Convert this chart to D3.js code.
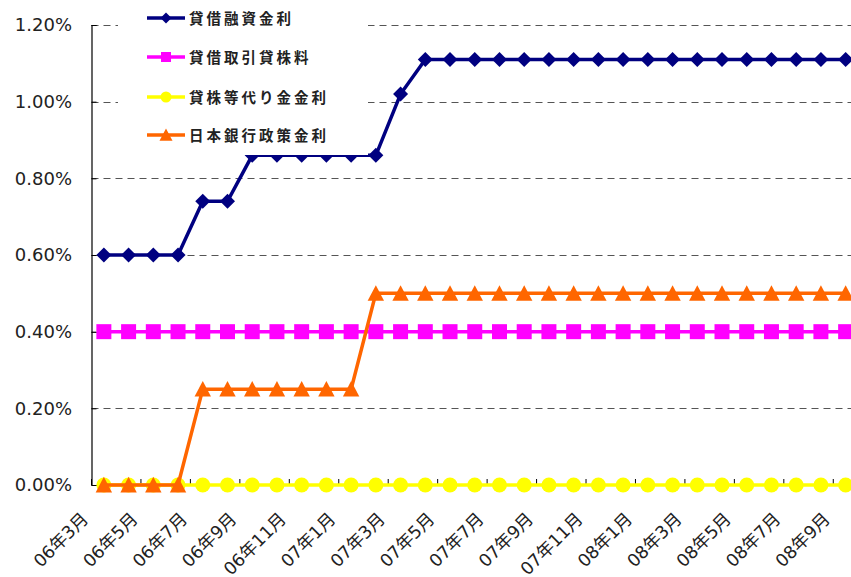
<!DOCTYPE html>
<html>
<head>
<meta charset="utf-8">
<script src="https://cdn.jsdelivr.net/npm/d3@7"></script>
<style>
  body { margin: 0; background: #fff; }
  svg { display: block; font-family: "DejaVu Sans", "Noto Sans CJK JP", sans-serif; }
  .grid line { stroke: #555; stroke-dasharray: 7,5; stroke-width: 1.2; }
  .tick-label { font-size: 18px; fill: #222; }
  .month-label { font-size: 17.5px; fill: #222; }
  .legend-text { font-family: "Noto Sans CJK JP", sans-serif; font-size: 14.5px; font-weight: bold; letter-spacing: 3px; fill: #222; }
</style>
</head>
<body>
<svg id="chart" width="851" height="577"></svg>
<script>
// months Mar 2006 .. Sep 2008
const months = [
  '06年3月', '06年4月', '06年5月', '06年6月', '06年7月', '06年8月', '06年9月', '06年10月',
  '06年11月', '06年12月', '07年1月', '07年2月', '07年3月', '07年4月', '07年5月', '07年6月',
  '07年7月', '07年8月', '07年9月', '07年10月', '07年11月', '07年12月', '08年1月', '08年2月',
  '08年3月', '08年4月', '08年5月', '08年6月', '08年7月', '08年8月', '08年9月'
];

// rates in percent
const lendingRate = [
  0.60, 0.60, 0.60, 0.60, 0.74, 0.74, 0.86, 0.86, 0.86, 0.86, 0.86, 0.86, 1.02, 1.11, 1.11, 1.11,
  1.11, 1.11, 1.11, 1.11, 1.11, 1.11, 1.11, 1.11, 1.11, 1.11, 1.11, 1.11, 1.11, 1.11, 1.11
];
const stockFee = [
  0.40, 0.40, 0.40, 0.40, 0.40, 0.40, 0.40, 0.40, 0.40, 0.40, 0.40, 0.40, 0.40, 0.40, 0.40, 0.40,
  0.40, 0.40, 0.40, 0.40, 0.40, 0.40, 0.40, 0.40, 0.40, 0.40, 0.40, 0.40, 0.40, 0.40, 0.40
];
const collateralRate = [
  0, 0, 0, 0, 0, 0, 0, 0, 0, 0, 0, 0, 0, 0, 0, 0,
  0, 0, 0, 0, 0, 0, 0, 0, 0, 0, 0, 0, 0, 0, 0
];
const policyRate = [
  0, 0, 0, 0, 0.25, 0.25, 0.25, 0.25, 0.25, 0.25, 0.25, 0.50, 0.50, 0.50, 0.50, 0.50,
  0.50, 0.50, 0.50, 0.50, 0.50, 0.50, 0.50, 0.50, 0.50, 0.50, 0.50, 0.50, 0.50, 0.50, 0.50
];

const seriesNames = ['貸借融資金利', '貸借取引貸株料', '貸株等代り金金利', '日本銀行政策金利'];
const seriesColors = ['#000080', '#ff00ff', '#ffff00', '#ff6600'];
const yTicks = [0, 0.2, 0.4, 0.6, 0.8, 1.0, 1.2];

const MARGIN = { LEFT: 91.5, TOP: 25, BOTTOM: 485, RIGHT: 858 };

const svg = d3.select('#chart');

const x = d3.scaleBand()
  .domain(months)
  .range([MARGIN.LEFT, MARGIN.RIGHT]);
const cx = m => x(m) + x.bandwidth() / 2;

const y = d3.scaleLinear()
  .domain([0, 1.2])
  .range([MARGIN.BOTTOM, MARGIN.TOP]);

// gridlines
svg.append('g')
  .attr('class', 'grid')
  .selectAll('line')
  .data(yTicks.filter(d => d > 0))
  .enter()
  .append('line')
  .attr('x1', MARGIN.LEFT)
  .attr('x2', 851)
  .attr('y1', d => Math.round(y(d)) + 0.5)
  .attr('y2', d => Math.round(y(d)) + 0.5);

// y axis
const yAxis = svg.append('g')
  .attr('transform', `translate(${MARGIN.LEFT},0)`)
  .call(d3.axisRight(y).tickValues(yTicks).tickSize(5).tickFormat(''));
yAxis.select('.domain').attr('stroke', '#000').attr('stroke-width', 1.2);
yAxis.selectAll('.tick line').attr('stroke', '#000');

svg.append('g')
  .selectAll('text')
  .data(yTicks)
  .enter()
  .append('text')
  .attr('class', 'tick-label')
  .attr('x', 72)
  .attr('y', d => y(d))
  .attr('dy', '0.36em')
  .attr('text-anchor', 'end')
  .text(d => d.toFixed(2) + '%');

// x axis: ticks every two months
const xAxis = svg.append('g')
  .attr('transform', `translate(0,${MARGIN.BOTTOM})`)
  .call(d3.axisTop(x)
    .tickValues(months.filter((_, i) => i % 2 === 0))
    .tickSize(6)
    .tickSizeOuter(0)
    .tickFormat(''));
xAxis.select('.domain').attr('stroke', '#000').attr('stroke-width', 1.2);
xAxis.selectAll('.tick')
  .attr('transform', d => `translate(${x(d)},0)`);
xAxis.selectAll('.tick line').attr('stroke', '#000');

svg.append('g')
  .selectAll('text')
  .data(months.filter((_, i) => i % 2 === 0))
  .enter()
  .append('text')
  .attr('class', 'month-label')
  .attr('text-anchor', 'end')
  .attr('transform', d => `translate(${cx(d) - 14.5},${520}) rotate(-45)`)
  .text(d => d);

// markers
const diamond = s => `M0,${-s}L${s},0L0,${s}L${-s},0Z`;
const square = s => `M${-s},${-s}H${s}V${s}H${-s}Z`;
const circle = s => `M${s},0A${s},${s} 0 1,1 ${-s},0A${s},${s} 0 1,1 ${s},0Z`;
const triangle = s => `M0,${-s}L${s},${s * 0.9}L${-s},${s * 0.9}Z`;
const shapes = [diamond, square, circle, triangle];
const markerSize = [7.5, 7.5, 7.5, 8.2];
const legendSize = [5.5, 5, 5.5, 6.5];

const allSeries = [lendingRate, stockFee, collateralRate, policyRate];

const line = d3.line()
  .x((d, i) => cx(months[i]))
  .y(d => y(d));

allSeries.forEach((values, k) => {
  const g = svg.append('g');
  g.append('path')
    .datum(values)
    .attr('d', line)
    .attr('fill', 'none')
    .attr('stroke', seriesColors[k])
    .attr('stroke-width', 3.5);
  g.selectAll('.marker')
    .data(values)
    .enter()
    .append('path')
    .attr('class', 'marker')
    .attr('transform', (d, i) => `translate(${cx(months[i])},${y(d)})`)
    .attr('d', shapes[k](markerSize[k]))
    .attr('fill', seriesColors[k]);
});

// legend
const legend = svg.append('g');
legend.append('rect')
  .attr('x', 118)
  .attr('y', 0)
  .attr('width', 250)
  .attr('height', 155)
  .attr('fill', '#fff');

const legendRows = [18, 57, 97, 135];
seriesNames.forEach((name, k) => {
  const row = legend.append('g')
    .attr('transform', `translate(0,${legendRows[k]})`);
  row.append('line')
    .attr('x1', 147)
    .attr('x2', 185)
    .attr('stroke', seriesColors[k])
    .attr('stroke-width', 3.5);
  row.append('path')
    .attr('transform', 'translate(166,0)')
    .attr('d', shapes[k](legendSize[k]))
    .attr('fill', seriesColors[k]);
  row.append('text')
    .attr('class', 'legend-text')
    .attr('x', 189)
    .attr('dy', '0.38em')
    .text(name);
});
</script>
</body>
</html>
